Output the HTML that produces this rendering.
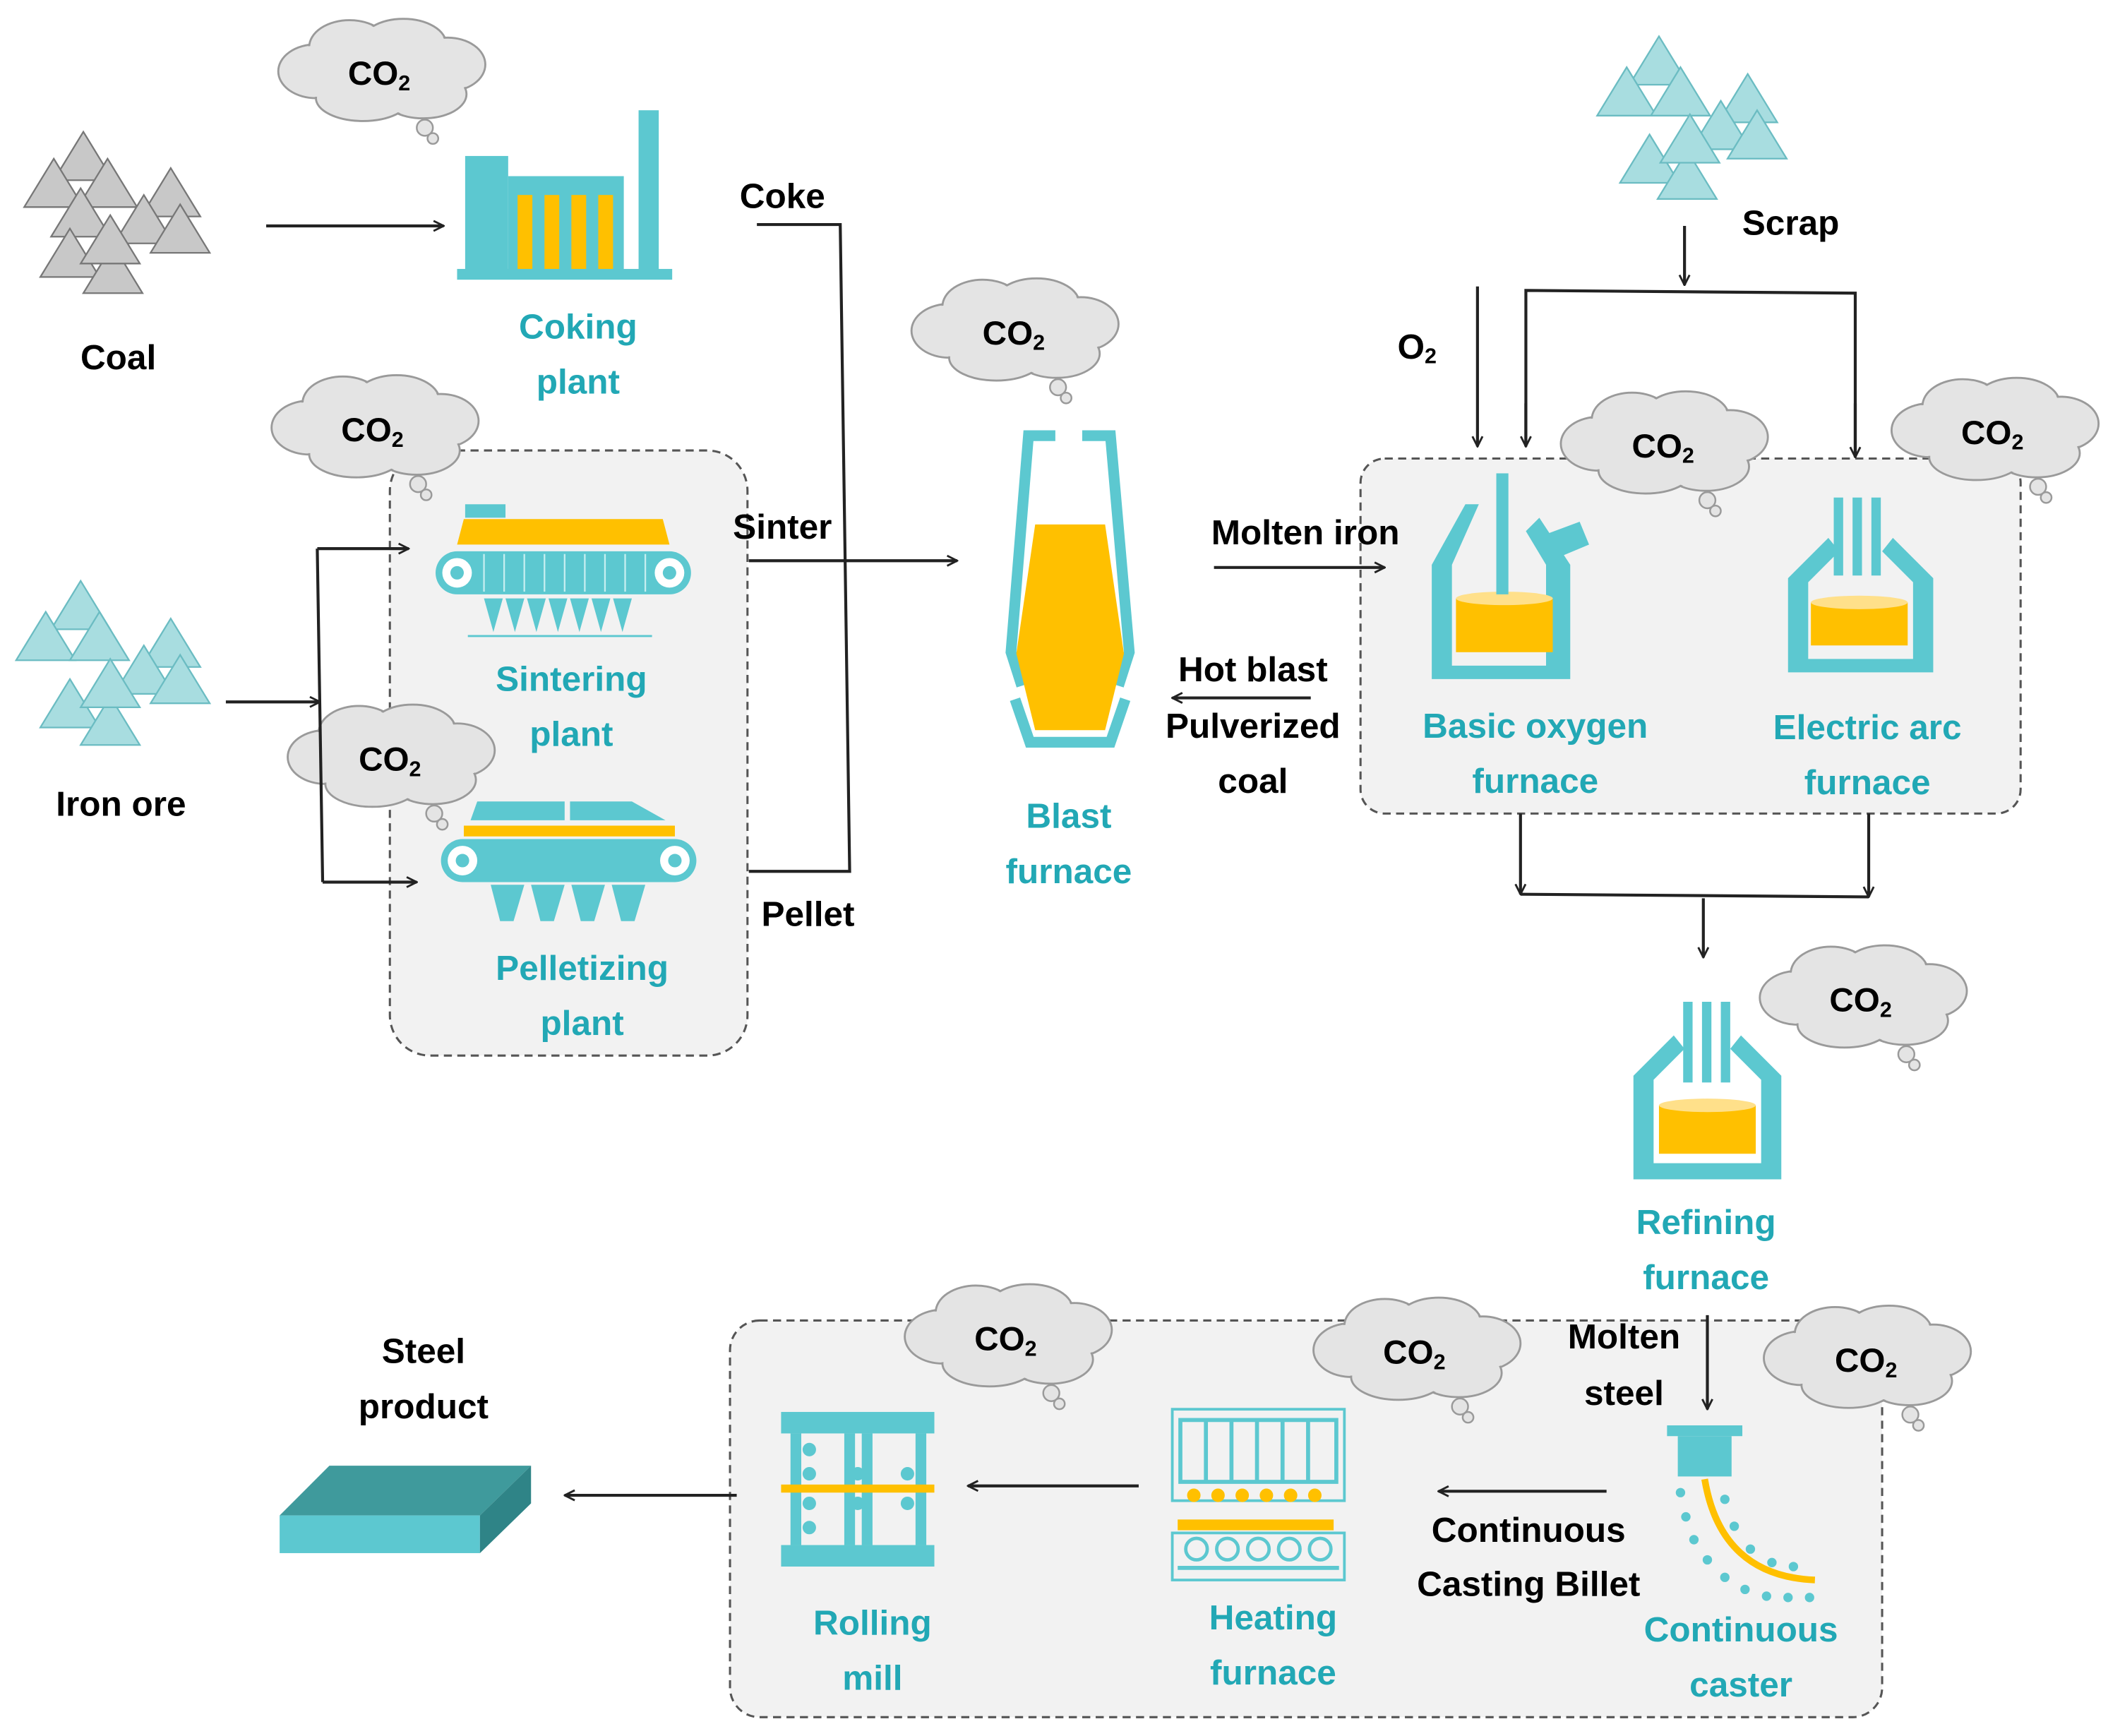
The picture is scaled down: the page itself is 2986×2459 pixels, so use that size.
<!DOCTYPE html>
<html><head><meta charset="utf-8"><style>
html,body{margin:0;padding:0;background:#fff;}
svg{display:block;}
.b{font-family:"Liberation Sans",sans-serif;font-weight:bold;font-size:26px;fill:#000;text-anchor:middle;dominant-baseline:central;}
.t{font-family:"Liberation Sans",sans-serif;font-weight:bold;font-size:26px;fill:#22A8B5;text-anchor:middle;dominant-baseline:central;}
.c{font-family:"Liberation Sans",sans-serif;font-weight:bold;font-size:25px;fill:#000;text-anchor:middle;dominant-baseline:central;}
.ln{stroke:#222;stroke-width:2.2;fill:none;}
</style></head><body>
<svg width="2986" height="2459" viewBox="0 0 1568 1291" preserveAspectRatio="none" xmlns="http://www.w3.org/2000/svg">
<defs>
<marker id="ar" viewBox="0 0 12 12" refX="11" refY="6" markerWidth="9" markerHeight="9" markerUnits="userSpaceOnUse" orient="auto"><path d="M1,1 L11,6 L1,11" fill="none" stroke="#222" stroke-width="2"/></marker>
<g id="cloud">
<g fill="#e4e4e4" stroke="#9a9a9a" stroke-width="1.5">
<ellipse cx="30" cy="40" rx="28" ry="20"/><ellipse cx="55" cy="22" rx="30" ry="20"/><ellipse cx="95" cy="20" rx="32" ry="19"/><ellipse cx="128" cy="35" rx="28" ry="20"/><ellipse cx="110" cy="57" rx="32" ry="18"/><ellipse cx="65" cy="60" rx="35" ry="17"/>
</g>
<g fill="#e4e4e4">
<ellipse cx="30" cy="40" rx="27" ry="19"/><ellipse cx="55" cy="22" rx="29" ry="19"/><ellipse cx="95" cy="20" rx="31" ry="18"/><ellipse cx="128" cy="35" rx="27" ry="19"/><ellipse cx="110" cy="57" rx="31" ry="17"/><ellipse cx="65" cy="60" rx="34" ry="16"/><ellipse cx="80" cy="40" rx="55" ry="25"/>
</g>
<g fill="#e4e4e4" stroke="#9a9a9a" stroke-width="1.3"><circle cx="111" cy="82" r="6"/><circle cx="117" cy="90" r="4"/></g>
</g>
<g id="triG"><polygon points="22,0 44,36 0,36" fill="#c8c8c8" stroke="#777" stroke-width="1.2"/></g>
<g id="triT"><polygon points="22,0 44,36 0,36" fill="#a8dde0" stroke="#6bbcc2" stroke-width="1.2"/></g>
</defs>

<!-- dashed boxes -->
<rect x="290" y="335" width="266" height="450" rx="30" fill="#f2f2f2" stroke="#555" stroke-width="1.6" stroke-dasharray="6,4"/>
<rect x="1012" y="341" width="491" height="264" rx="18" fill="#f2f2f2" stroke="#555" stroke-width="1.6" stroke-dasharray="6,4"/>
<rect x="543" y="982" width="857" height="295" rx="22" fill="#f2f2f2" stroke="#555" stroke-width="1.6" stroke-dasharray="6,4"/>

<!-- clouds -->
<g><use href="#cloud" x="205" y="13"/><text class="c" x="282" y="55">CO<tspan font-size="16" dy="7">2</tspan></text></g>
<g><use href="#cloud" x="200" y="278"/><text class="c" x="277" y="320">CO<tspan font-size="16" dy="7">2</tspan></text></g>
<g><use href="#cloud" x="212" y="523"/><text class="c" x="290" y="565">CO<tspan font-size="16" dy="7">2</tspan></text></g>
<g><use href="#cloud" x="676" y="206"/><text class="c" x="754" y="248">CO<tspan font-size="16" dy="7">2</tspan></text></g>
<g><use href="#cloud" x="1159" y="290"/><text class="c" x="1237" y="332">CO<tspan font-size="16" dy="7">2</tspan></text></g>
<g><use href="#cloud" x="1405" y="280"/><text class="c" x="1482" y="322">CO<tspan font-size="16" dy="7">2</tspan></text></g>
<g><use href="#cloud" x="1307" y="702"/><text class="c" x="1384" y="744">CO<tspan font-size="16" dy="7">2</tspan></text></g>
<g><use href="#cloud" x="671" y="954"/><text class="c" x="748" y="996">CO<tspan font-size="16" dy="7">2</tspan></text></g>
<g><use href="#cloud" x="975" y="964"/><text class="c" x="1052" y="1006">CO<tspan font-size="16" dy="7">2</tspan></text></g>
<g><use href="#cloud" x="1310" y="970"/><text class="c" x="1388" y="1012">CO<tspan font-size="16" dy="7">2</tspan></text></g>

<!-- piles -->
<g><use href="#triG" x="40" y="98"/><use href="#triG" x="18" y="118"/><use href="#triG" x="58" y="118"/><use href="#triG" x="38" y="140"/><use href="#triG" x="105" y="125"/><use href="#triG" x="85" y="145"/><use href="#triG" x="112" y="152"/><use href="#triG" x="30" y="170"/><use href="#triG" x="62" y="182"/><use href="#triG" x="60" y="160"/></g>
<g><use href="#triT" x="38" y="432"/><use href="#triT" x="12" y="455"/><use href="#triT" x="52" y="455"/><use href="#triT" x="105" y="460"/><use href="#triT" x="85" y="480"/><use href="#triT" x="112" y="487"/><use href="#triT" x="30" y="505"/><use href="#triT" x="60" y="518"/><use href="#triT" x="60" y="490"/></g>
<g><use href="#triT" x="1212" y="27"/><use href="#triT" x="1188" y="50"/><use href="#triT" x="1228" y="50"/><use href="#triT" x="1278" y="55"/><use href="#triT" x="1258" y="75"/><use href="#triT" x="1285" y="82"/><use href="#triT" x="1205" y="100"/><use href="#triT" x="1233" y="112"/><use href="#triT" x="1235" y="85"/></g>

<!-- coking plant -->
<rect x="340" y="200" width="160" height="8" fill="#5cc8d0"/>
<rect x="346" y="116" width="32" height="86" fill="#5cc8d0"/>
<rect x="378" y="131" width="86" height="71" fill="#5cc8d0"/>
<rect x="385" y="145" width="11" height="55" fill="#ffc000"/><rect x="405" y="145" width="11" height="55" fill="#ffc000"/><rect x="425" y="145" width="11" height="55" fill="#ffc000"/><rect x="445" y="145" width="11" height="55" fill="#ffc000"/>
<rect x="475" y="82" width="15" height="120" fill="#5cc8d0"/>

<!-- sintering -->
<rect x="346" y="375" width="30" height="10" fill="#5cc8d0"/>
<polygon points="340,405 345,386 493,386 498,405" fill="#ffc000"/>
<rect x="324" y="410" width="190" height="32" rx="16" fill="#5cc8d0"/>
<circle cx="340" cy="426" r="11" fill="#fff"/><circle cx="340" cy="426" r="5" fill="#5cc8d0"/>
<circle cx="498" cy="426" r="11" fill="#fff"/><circle cx="498" cy="426" r="5" fill="#5cc8d0"/>
<g stroke="#c5eef0" stroke-width="1.2"><line x1="360" y1="412" x2="360" y2="440"/><line x1="375" y1="412" x2="375" y2="440"/><line x1="390" y1="412" x2="390" y2="440"/><line x1="405" y1="412" x2="405" y2="440"/><line x1="420" y1="412" x2="420" y2="440"/><line x1="435" y1="412" x2="435" y2="440"/><line x1="450" y1="412" x2="450" y2="440"/><line x1="465" y1="412" x2="465" y2="440"/><line x1="480" y1="412" x2="480" y2="440"/></g>
<g fill="#5cc8d0"><polygon points="360,445 374,445 367,470"/><polygon points="376,445 390,445 383,470"/><polygon points="392,445 406,445 399,470"/><polygon points="408,445 422,445 415,470"/><polygon points="424,445 438,445 431,470"/><polygon points="440,445 454,445 447,470"/><polygon points="456,445 470,445 463,470"/></g>
<line x1="348" y1="473" x2="485" y2="473" stroke="#5cc8d0" stroke-width="1.5"/>

<!-- pelletizing -->
<polygon points="350,610 355,596 420,596 420,610" fill="#5cc8d0"/><polygon points="424,610 424,596 470,596 495,610" fill="#5cc8d0"/>
<rect x="345" y="614" width="157" height="8" fill="#ffc000"/>
<rect x="328" y="624" width="190" height="32" rx="16" fill="#5cc8d0"/>
<circle cx="344" cy="640" r="11" fill="#fff"/><circle cx="344" cy="640" r="5" fill="#5cc8d0"/>
<circle cx="502" cy="640" r="11" fill="#fff"/><circle cx="502" cy="640" r="5" fill="#5cc8d0"/>
<g fill="#5cc8d0"><polygon points="365,658 390,658 382,685 372,685"/><polygon points="395,658 420,658 412,685 402,685"/><polygon points="425,658 450,658 442,685 432,685"/><polygon points="455,658 480,658 472,685 462,685"/></g>

<!-- blast furnace -->
<g fill="none" stroke="#5cc8d0" stroke-width="8" stroke-linejoin="miter">
<polyline points="785,324 765,324 752,485 760,510"/><polyline points="805,324 826,324 840,485 832,510"/>
<polyline points="755,520 766,552 826,552 837,520"/>
</g>
<polygon points="770,390 822,390 836,486 822,543 770,543 756,486" fill="#ffc000"/>

<!-- BOF -->
<polygon points="1065,505 1065,420 1090,375 1100,375 1080,420 1080,495 1150,495 1150,420 1135,395 1145,385 1168,420 1168,505" fill="#5cc8d0"/>
<rect x="1083" y="445" width="72" height="40" fill="#ffc000"/><ellipse cx="1119" cy="445" rx="36" ry="5" fill="#ffe08a"/>
<rect x="1113" y="352" width="9" height="90" fill="#5cc8d0"/>
<polygon points="1148,398 1175,388 1182,405 1158,415" fill="#5cc8d0"/>

<!-- EAF -->
<polygon points="1330,500 1330,430 1360,400 1368,410 1345,433 1345,490 1423,490 1423,433 1400,410 1408,400 1438,430 1438,500" fill="#5cc8d0"/>
<rect x="1347" y="448" width="72" height="32" fill="#ffc000"/><ellipse cx="1383" cy="448" rx="36" ry="5" fill="#ffe08a"/>
<rect x="1364" y="370" width="7" height="58" fill="#5cc8d0"/><rect x="1378" y="370" width="7" height="58" fill="#5cc8d0"/><rect x="1392" y="370" width="7" height="58" fill="#5cc8d0"/>

<!-- refining -->
<polygon points="1215,877 1215,800 1245,770 1253,780 1230,803 1230,865 1310,865 1310,803 1287,780 1295,770 1325,800 1325,877" fill="#5cc8d0"/>
<rect x="1234" y="822" width="72" height="36" fill="#ffc000"/><ellipse cx="1270" cy="822" rx="36" ry="5" fill="#ffe08a"/>
<rect x="1252" y="745" width="7" height="60" fill="#5cc8d0"/><rect x="1266" y="745" width="7" height="60" fill="#5cc8d0"/><rect x="1280" y="745" width="7" height="60" fill="#5cc8d0"/>

<!-- continuous caster -->
<rect x="1240" y="1060" width="56" height="8" fill="#5cc8d0"/><rect x="1248" y="1068" width="40" height="30" fill="#5cc8d0"/>
<path d="M1268,1100 Q1280,1172 1350,1175" fill="none" stroke="#ffc000" stroke-width="5"/>
<g fill="#5cc8d0"><circle cx="1250" cy="1110" r="3.5"/><circle cx="1254" cy="1128" r="3.5"/><circle cx="1260" cy="1145" r="3.5"/><circle cx="1270" cy="1160" r="3.5"/><circle cx="1283" cy="1173" r="3.5"/><circle cx="1298" cy="1182" r="3.5"/><circle cx="1314" cy="1187" r="3.5"/><circle cx="1330" cy="1188" r="3.5"/><circle cx="1346" cy="1188" r="3.5"/><circle cx="1283" cy="1115" r="3.5"/><circle cx="1290" cy="1135" r="3.5"/><circle cx="1302" cy="1152" r="3.5"/><circle cx="1318" cy="1162" r="3.5"/><circle cx="1334" cy="1165" r="3.5"/></g>

<!-- heating furnace -->
<rect x="872" y="1048" width="128" height="68" fill="none" stroke="#5cc8d0" stroke-width="2"/>
<rect x="878" y="1056" width="116" height="46" fill="none" stroke="#5cc8d0" stroke-width="3"/>
<g stroke="#5cc8d0" stroke-width="3"><line x1="897" y1="1056" x2="897" y2="1102"/><line x1="916" y1="1056" x2="916" y2="1102"/><line x1="935" y1="1056" x2="935" y2="1102"/><line x1="954" y1="1056" x2="954" y2="1102"/><line x1="973" y1="1056" x2="973" y2="1102"/></g>
<g fill="#ffc000"><circle cx="888" cy="1112" r="5"/><circle cx="906" cy="1112" r="5"/><circle cx="924" cy="1112" r="5"/><circle cx="942" cy="1112" r="5"/><circle cx="960" cy="1112" r="5"/><circle cx="978" cy="1112" r="5"/></g>
<rect x="876" y="1130" width="116" height="8" fill="#ffc000"/>
<rect x="872" y="1140" width="128" height="35" fill="none" stroke="#5cc8d0" stroke-width="2"/>
<g fill="none" stroke="#5cc8d0" stroke-width="2.5"><circle cx="890" cy="1152" r="8"/><circle cx="913" cy="1152" r="8"/><circle cx="936" cy="1152" r="8"/><circle cx="959" cy="1152" r="8"/><circle cx="982" cy="1152" r="8"/></g>
<line x1="876" y1="1166" x2="996" y2="1166" stroke="#5cc8d0" stroke-width="3"/>

<!-- rolling mill -->
<rect x="581" y="1050" width="114" height="16" fill="#5cc8d0"/><rect x="581" y="1149" width="114" height="16" fill="#5cc8d0"/>
<g fill="#5cc8d0"><rect x="588" y="1066" width="8" height="83"/><rect x="628" y="1066" width="8" height="83"/><rect x="641" y="1066" width="8" height="83"/><rect x="681" y="1066" width="8" height="83"/>
<circle cx="602" cy="1078" r="5"/><circle cx="602" cy="1096" r="5"/><circle cx="602" cy="1118" r="5"/><circle cx="602" cy="1136" r="5"/><circle cx="638" cy="1096" r="5"/><circle cx="638" cy="1118" r="5"/><circle cx="675" cy="1096" r="5"/><circle cx="675" cy="1118" r="5"/></g>
<rect x="581" y="1104" width="114" height="6" fill="#ffc000"/>

<!-- steel product -->
<polygon points="208,1127 245,1090 395,1090 357,1127" fill="#3f9a9c"/>
<rect x="208" y="1127" width="149" height="28" fill="#5cc8d0"/>
<polygon points="357,1127 395,1090 395,1118 357,1155" fill="#2f8487"/>

<!-- arrows -->
<g class="ln">
<line x1="198" y1="168" x2="330" y2="168" marker-end="url(#ar)"/>
<polyline points="563,167 625,167 632,648 557,648"/>
<line x1="557" y1="417" x2="712" y2="417" marker-end="url(#ar)"/>
<line x1="168" y1="522" x2="238" y2="522" marker-end="url(#ar)"/>
<line x1="236" y1="408" x2="240" y2="656"/>
<line x1="236" y1="408" x2="304" y2="408" marker-end="url(#ar)"/>
<line x1="240" y1="656" x2="310" y2="656" marker-end="url(#ar)"/>
<line x1="903" y1="422" x2="1030" y2="422" marker-end="url(#ar)"/>
<line x1="975" y1="519" x2="872" y2="519" marker-end="url(#ar)"/>
<line x1="1099" y1="213" x2="1099" y2="332" marker-end="url(#ar)"/>
<line x1="1253" y1="168" x2="1253" y2="212" marker-end="url(#ar)"/>
<polyline points="1135,332 1135,216 1380,218 1380,340" />
<line x1="1135" y1="300" x2="1135" y2="332" marker-end="url(#ar)"/>
<line x1="1380" y1="300" x2="1380" y2="340" marker-end="url(#ar)"/>
<line x1="1131" y1="605" x2="1131" y2="665" marker-end="url(#ar)"/>
<line x1="1390" y1="605" x2="1390" y2="667" marker-end="url(#ar)"/>
<line x1="1131" y1="665" x2="1390" y2="667"/>
<line x1="1267" y1="668" x2="1267" y2="712" marker-end="url(#ar)"/>
<line x1="1270" y1="978" x2="1270" y2="1048" marker-end="url(#ar)"/>
<line x1="1195" y1="1109" x2="1070" y2="1109" marker-end="url(#ar)"/>
<line x1="847" y1="1105" x2="720" y2="1105" marker-end="url(#ar)"/>
<line x1="548" y1="1112" x2="420" y2="1112" marker-end="url(#ar)"/>
</g>

<!-- black labels -->
<text class="b" x="88" y="266">Coal</text>
<text class="b" x="90" y="598">Iron ore</text>
<text class="b" x="582" y="146">Coke</text>
<text class="b" x="582" y="392">Sinter</text>
<text class="b" x="601" y="680">Pellet</text>
<text class="b" x="971" y="396">Molten iron</text>
<text class="b" x="932" y="498">Hot blast</text>
<text class="b" x="932" y="540">Pulverized</text>
<text class="b" x="932" y="581">coal</text>
<text class="b" x="1054" y="258">O<tspan font-size="16" dy="7">2</tspan></text>
<text class="b" x="1332" y="166">Scrap</text>
<text class="b" x="1208" y="994">Molten</text>
<text class="b" x="1208" y="1036">steel</text>
<text class="b" x="1137" y="1138">Continuous</text>
<text class="b" x="1137" y="1178">Casting Billet</text>
<text class="b" x="315" y="1005">Steel</text>
<text class="b" x="315" y="1046">product</text>

<!-- teal labels -->
<text class="t" x="430" y="243">Coking</text><text class="t" x="430" y="284">plant</text>
<text class="t" x="425" y="505">Sintering</text><text class="t" x="425" y="546">plant</text>
<text class="t" x="433" y="720">Pelletizing</text><text class="t" x="433" y="761">plant</text>
<text class="t" x="795" y="607">Blast</text><text class="t" x="795" y="648">furnace</text>
<text class="t" x="1142" y="540">Basic oxygen</text><text class="t" x="1142" y="581">furnace</text>
<text class="t" x="1389" y="541">Electric arc</text><text class="t" x="1389" y="582">furnace</text>
<text class="t" x="1269" y="909">Refining</text><text class="t" x="1269" y="950">furnace</text>
<text class="t" x="1295" y="1212">Continuous</text><text class="t" x="1295" y="1253">caster</text>
<text class="t" x="947" y="1203">Heating</text><text class="t" x="947" y="1244">furnace</text>
<text class="t" x="649" y="1207">Rolling</text><text class="t" x="649" y="1248">mill</text>
</svg>
</body></html>
